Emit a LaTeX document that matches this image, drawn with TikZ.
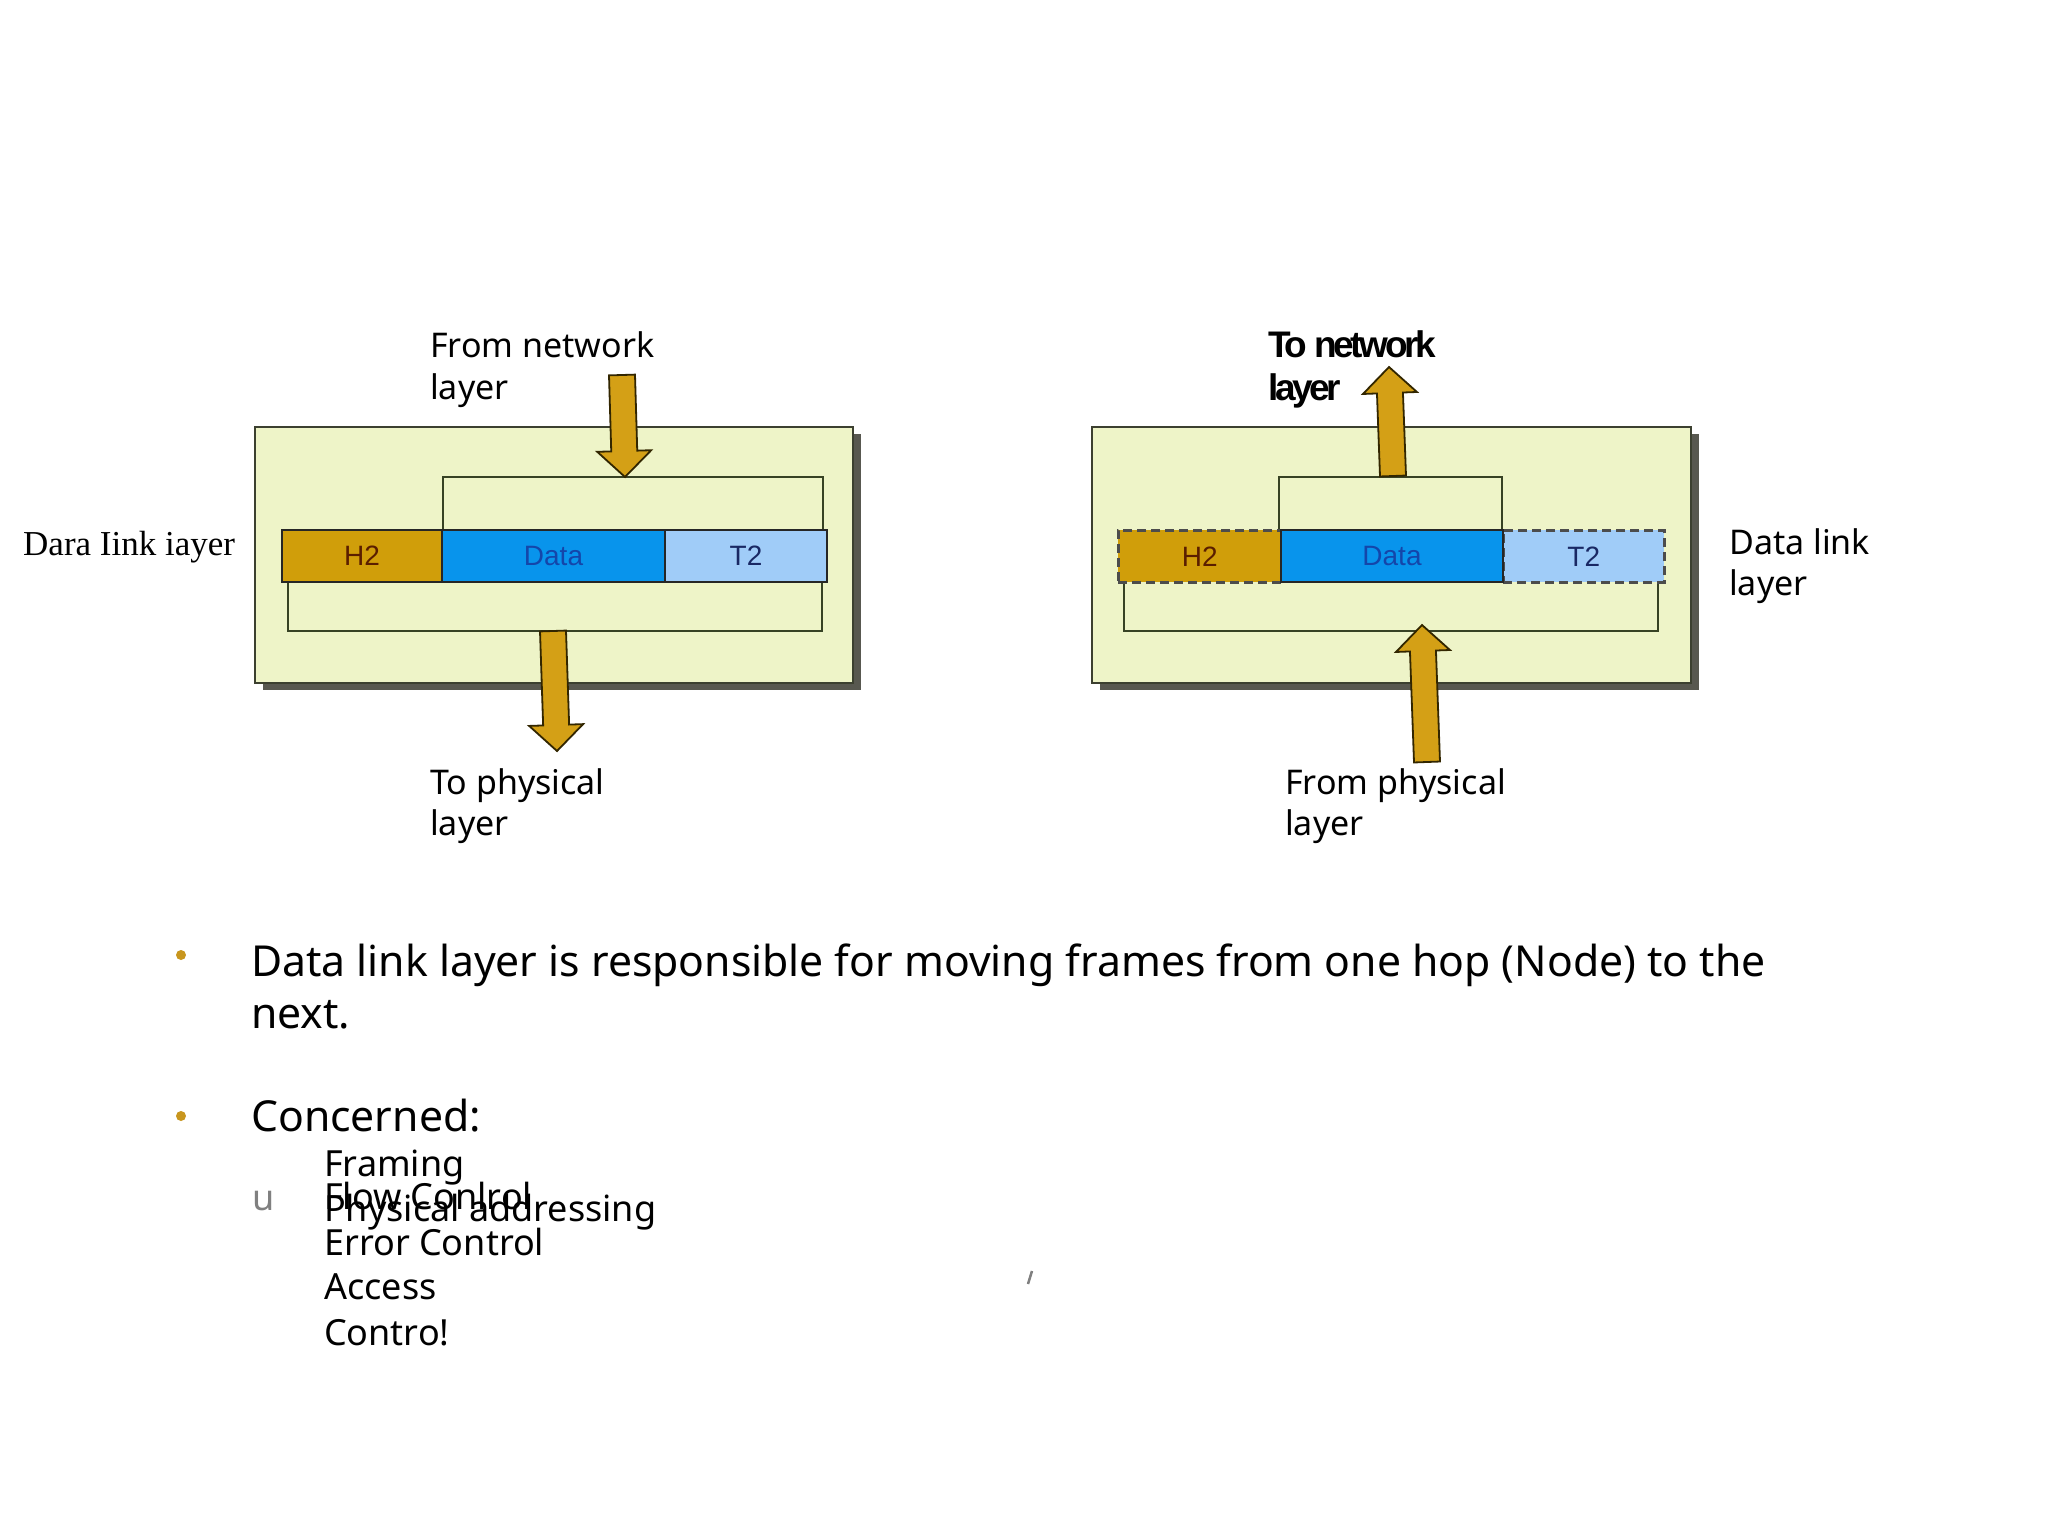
\documentclass[tikz,border=0pt]{standalone}
\usepackage{fontspec}
\setmainfont{Noto Sans}
\newfontfamily\serifdl{Liberation Serif}
\newfontfamily\arialf{Liberation Sans}
\newfontfamily\tnfont{Liberation Sans}[LetterSpace=-9]
\usetikzlibrary{calc}
\definecolor{boxfill}{RGB}{238,244,200}
\definecolor{boxline}{RGB}{60,64,48}
\definecolor{shadowc}{RGB}{88,88,80}
\definecolor{brkline}{RGB}{55,66,36}
\definecolor{hfill}{RGB}{208,158,10}
\definecolor{dfill}{RGB}{8,148,236}
\definecolor{tfill}{RGB}{160,204,248}
\definecolor{htext}{RGB}{90,30,0}
\definecolor{dtext}{RGB}{20,70,170}
\definecolor{ttext}{RGB}{25,40,100}
\definecolor{arrfill}{RGB}{212,160,22}
\definecolor{arrline}{RGB}{50,38,0}
\definecolor{bulletc}{RGB}{200,150,30}
\definecolor{ugray}{RGB}{128,128,128}
\tikzset{
  layerbox/.style={draw=boxline, line width=2.5pt, fill=boxfill},
  shadowbox/.style={fill=shadowc},
  bracket/.style={draw=brkline, line width=2.5pt},
  cell/.style={anchor=north west, inner sep=0pt, minimum height=52pt, draw=black!85, line width=2pt,
    font=\arialf\fontsize{28}{32}\selectfont},
  dashcell/.style={cell, draw=black!70, line width=2.6pt, dash pattern=on 9pt off 5pt},
  blockarrowstyle/.style={fill=arrfill, draw=arrline, line width=1.8pt, line join=miter},
  lbl/.style={anchor=base west, inner sep=0pt, font=\fontsize{34}{42}\selectfont},
  body/.style={anchor=base west, inner sep=0pt, font=\fontsize{42.7}{52}\selectfont},
  subitem/.style={anchor=base west, inner sep=0pt, font=\fontsize{36}{42}\selectfont},
  bulletdot/.style={circle, fill=bulletc, inner sep=0pt, minimum size=10pt},
  tnlbl/.style={anchor=base west, inner sep=0pt, font=\tnfont\bfseries\fontsize{37}{42}\selectfont},
}
\newcommand{\blockarrow}[2]{%
  \coordinate (ba-h) at ($(#2)!26pt!(#1)$);
  \filldraw[blockarrowstyle] ($(#1)!13pt!90:(#2)$) -- ($(ba-h)!13pt!-90:(#1)$) -- ($(ba-h)!27pt!-90:(#1)$) -- (#2)
     -- ($(ba-h)!27pt!90:(#1)$) -- ($(ba-h)!13pt!90:(#1)$) -- ($(#1)!13pt!-90:(#2)$) -- cycle;
}
\begin{document}
\begin{tikzpicture}[x=1pt,y=-1pt]
\useasboundingbox[fill=white] (0,0) rectangle (2048,1536);

% ---------------- left panel ----------------
\fill[shadowbox] (263,434) rectangle (861,690);
\draw[layerbox] (255,427) rectangle (853,683);
\draw[bracket] (443,529) -- (443,477) -- (823,477) -- (823,529);
\draw[bracket] (288,581) -- (288,631) -- (822,631) -- (822,581);
\node[cell, fill=hfill, text=htext, minimum width=160pt] (h2L) at (281,529) {H2};
\node[cell, fill=dfill, text=dtext, minimum width=223pt] (dataL) at (441,529) {Data};
\node[cell, fill=tfill, text=ttext, minimum width=162pt] (t2L) at (664,529) {T2};

\coordinate (a1t) at (622,375); \coordinate (a1h) at (625,477);
\coordinate (a2t) at (553,631); \coordinate (a2h) at (557,751);
\blockarrow{a1t}{a1h}
\blockarrow{a2t}{a2h}

\node[lbl] (fromnet1) at (430,357) {From network};
\node[lbl] (fromnet2) at (430,399) {layer};
\node[lbl] (tophys1) at (430,794) {To physical};
\node[lbl] (tophys2) at (430,835) {layer};
\node[anchor=base west, inner sep=0pt, font=\serifdl\fontsize{35}{42}\selectfont] (dara) at (23,555) {Dara Iink iayer};

% ---------------- right panel ----------------
\fill[shadowbox] (1100,434) rectangle (1699,690);
\draw[layerbox] (1092,427) rectangle (1691,683);
\draw[bracket] (1279,529) -- (1279,477) -- (1502,477) -- (1502,529);
\draw[bracket] (1124,581) -- (1124,631) -- (1658,631) -- (1658,581);
\node[dashcell, fill=hfill, text=htext, minimum width=163pt] (h2R) at (1117,529) {H2};
\node[dashcell, fill=tfill, text=ttext, minimum width=161pt] (t2R) at (1502,529) {T2};
\node[cell, fill=dfill, text=dtext, minimum width=222pt] (dataR) at (1280,529) {Data};

\coordinate (a3t) at (1393,476); \coordinate (a3h) at (1389,367);
\coordinate (a4t) at (1427,762); \coordinate (a4h) at (1422,625);
\blockarrow{a3t}{a3h}
\blockarrow{a4t}{a4h}

\node[tnlbl] (tonet1) at (1268,357) {To network};
\node[tnlbl] (tonet2) at (1268,400) {layer};
\node[lbl] (fromphys1) at (1285,794) {From physical};
\node[lbl] (fromphys2) at (1285,835) {layer};
\node[lbl] (dll1) at (1729,554) {Data link};
\node[lbl] (dll2) at (1729,595) {layer};

% ---------------- bullet text ----------------
\node[bulletdot] (dot1) at (181,955) {};
\node[bulletdot] (dot2) at (181,1116) {};
\node[body] (b1) at (251,976) {Data link layer is responsible for moving frames from one hop (Node) to the};
\node[body] (b1b) at (251,1028) {next.};
\node[body] (b2) at (251,1131) {Concerned:};
\node[subitem] (framing) at (324,1176) {Framing};
\node[subitem] (flow) at (324,1209) {Flow Conlrol};
\node[subitem] (phys) at (324,1221) {Physical addressing};
\node[subitem] (error) at (324,1255) {Error Control};
\node[subitem] (access) at (324,1299) {Access};
\node[subitem] (contro) at (324,1345) {Contro!};
\node[subitem, text=ugray] (u) at (252,1210) {u};
\draw[ugray, line width=2.5pt] (1028,1284) -- (1032,1271);
\end{tikzpicture}
\end{document}
